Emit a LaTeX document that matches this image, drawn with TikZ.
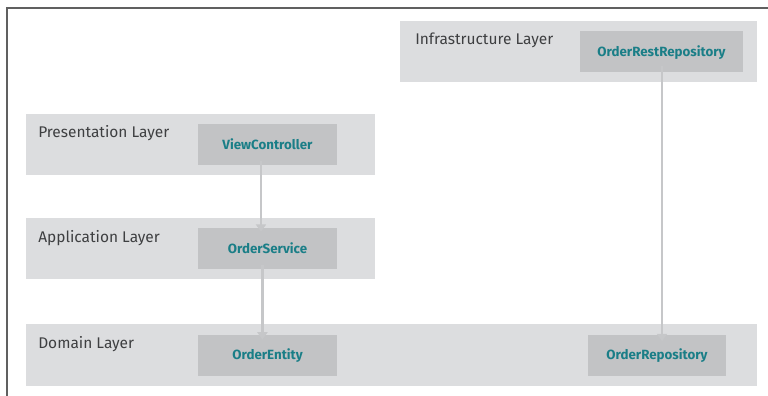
\documentclass[tikz,border=0pt]{standalone}
\usepackage{fontspec}
\setmainfont{Fira Sans}
\usepackage{tikz}
\usetikzlibrary{fit,calc,arrows.meta}

\definecolor{layerfill}{HTML}{DCDDDF}
\definecolor{compfill}{HTML}{C2C3C5}
\definecolor{compteal}{HTML}{1A7E87}
\definecolor{labelgray}{HTML}{3E3F41}
\definecolor{flowgray}{HTML}{C6C7C9}

\begin{document}
\begin{tikzpicture}[x=0.75pt,y=0.75pt,yscale=-1,xscale=1,
  layer/.style={fill=layerfill,draw=none,inner sep=0pt},
  comp/.style={fill=compfill,draw=none,inner sep=0pt,minimum width=104.25pt,minimum height=30.75pt,text=compteal,text height=7pt,text depth=0pt,font=\fontsize{10}{12}\selectfont\bfseries},
  laylabel/.style={anchor=base west,inner sep=0pt,text=labelgray,font=\fontsize{11.6}{14}\selectfont},
  flow/.style={draw=flowgray,line width=1.8pt,-{Triangle[width=7.5pt,length=5.5pt]}}]
\useasboundingbox (0,0) rectangle (768,396);

%frame
\draw [color=gray!75!black,line width=1.1pt] (7,396) -- (7,8) -- (768,8) ;

%Layers
\node [layer, fit={(400,21) (757,82)}] (infra) {};
\node [layer, fit={(26,114) (375,175)}] (pres) {};
\node [layer, fit={(26,218) (375,279)}] (app) {};
\node [layer, fit={(26,324) (757,386)}] (dom) {};

% Text Node
\node [laylabel] (infralbl) at (415,45) {Infrastructure Layer};
% Text Node
\node [laylabel] (preslbl) at (38,137) {Presentation Layer};
% Text Node
\node [laylabel] (applbl) at (38,242) {Application Layer};
% Text Node
\node [laylabel] (domlbl) at (38,348) {Domain Layer};

%Components
\node [comp, minimum width=122.25pt] (restrepo) at (661.5,51.5) {OrderRestRepository};
\node [comp] (viewctl) at (267.5,144.5) {ViewController};
\node [comp] (ordsvc) at (267.5,248.5) {OrderService};
\node [comp] (ordent) at (267.5,355) {OrderEntity};
\node [comp, minimum width=103.5pt] (ordrepo) at (657,355) {OrderRepository};

%Straight Lines
\draw [flow] ([xshift=-4.9pt,yshift=-3pt]viewctl.south) -- ([xshift=-4.9pt,yshift=3pt]viewctl.south |- ordsvc.north) ;
\draw [flow] ([xshift=-3.8pt,yshift=-3pt]ordsvc.south) -- ([xshift=-3.8pt,yshift=4pt]ordsvc.south |- ordent.north) ;
\draw [flow] ([xshift=0.4pt,yshift=-4.5pt]restrepo.south) -- ([xshift=0.4pt,yshift=5.2pt]restrepo.south |- ordrepo.north) ;

\end{tikzpicture}
\end{document}
